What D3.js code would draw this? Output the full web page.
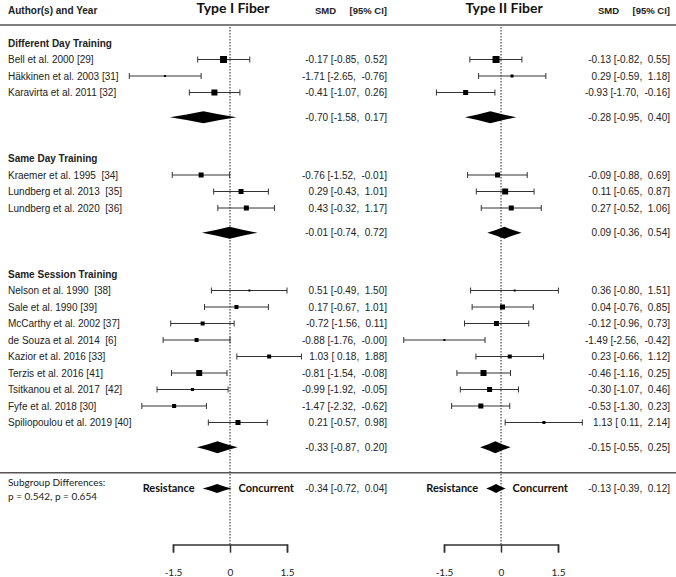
<!DOCTYPE html>
<html>
<head>
<meta charset="utf-8">
<script src="https://cdn.jsdelivr.net/npm/d3@7"></script>
<style>
  body { margin: 0; background: #fff; }
  text { white-space: pre; }
</style>
</head>
<body>
<div id="chart"></div>
<script>
// data
const groups = ["Different Day Training", "Same Day Training", "Same Session Training"]
const groupSize = [3, 3, 9]
const studies = ["Bell et al. 2000 [29]", "Häkkinen et al. 2003 [31]", "Karavirta et al. 2011 [32]",
  "Kraemer et al. 1995  [34]", "Lundberg et al. 2013  [35]", "Lundberg et al. 2020  [36]",
  "Nelson et al. 1990  [38]", "Sale et al. 1990 [39]", "McCarthy et al. 2002 [37]", "de Souza et al. 2014  [6]",
  "Kazior et al. 2016 [33]", "Terzis et al. 2016 [41]", "Tsitkanou et al. 2017  [42]", "Fyfe et al. 2018 [30]",
  "Spiliopoulou et al. 2019 [40]"]

// Type I fiber
const smd1 = [-0.17, -1.71, -0.41, -0.76, 0.29, 0.43, 0.51, 0.17, -0.72, -0.88, 1.03, -0.81, -0.99, -1.47, 0.21]
const lo1 = [-0.85, -2.65, -1.07, -1.52, -0.43, -0.32, -0.49, -0.67, -1.56, -1.76, 0.18, -1.54, -1.92, -2.32, -0.57]
const hi1 = [0.52, -0.76, 0.26, -0.01, 1.01, 1.17, 1.50, 1.01, 0.11, -0.00, 1.88, -0.08, -0.05, -0.62, 0.98]
const wt1 = [7, 2, 6, 5, 5, 5, 2, 4, 4, 4, 4, 6, 3, 4, 5]
const sub1 = [-0.70, -0.01, -0.33]
const subLo1 = [-1.58, -0.74, -0.87]
const subHi1 = [0.17, 0.72, 0.20]
const all1 = [-0.34, -0.72, 0.04]

// Type II fiber
const smd2 = [-0.13, 0.29, -0.93, -0.09, 0.11, 0.27, 0.36, 0.04, -0.12, -1.49, 0.23, -0.46, -0.30, -0.53, 1.13]
const lo2 = [-0.82, -0.59, -1.70, -0.88, -0.65, -0.52, -0.80, -0.76, -0.96, -2.56, -0.66, -1.16, -1.07, -1.30, 0.11]
const hi2 = [0.55, 1.18, -0.16, 0.69, 0.87, 1.06, 1.51, 0.85, 0.73, -0.42, 1.12, 0.25, 0.46, 0.23, 2.14]
const wt2 = [7, 3, 5, 5, 6, 5, 2, 5, 5, 2, 4, 6, 5, 5, 3]
const sub2 = [-0.28, 0.09, -0.15]
const subLo2 = [-0.95, -0.36, -0.55]
const subHi2 = [0.40, 0.54, 0.25]
const all2 = [-0.13, -0.39, 0.12]

const ticks = [-1.5, 0, 1.5]

const width = 676, height = 577
const svg = d3.select('#chart').append('svg')
  .attr('width', width).attr('height', height)

const ARIAL = '"Liberation Sans", Arial, sans-serif'
const CALIBRI = 'Lato, "Open Sans", sans-serif'

// row index -> y
const y = d3.scaleLinear().domain([0, 1]).range([43, 59.5])
const size = d3.scaleLinear().domain([0, 8]).range([0, 8])

// work out the row of every line
let rows = [], headRows = [], sumRows = []
let r = 0
groups.forEach((g, gi) => {
  headRows.push(r)
  for (let i = 0; i < groupSize[gi]; i++) rows.push(r + 1 + i)
  sumRows.push(r + groupSize[gi] + 1.5)
  r = r + groupSize[gi] + 4
})
const subgroupRow = 27
const axisRow = 30.4

function num(v) {
  return (v < 0 || Object.is(v, -0) ? '-' : '') + Math.abs(v).toFixed(2)
}
function pad(v) {
  let s = num(v)
  return s.length < 5 ? ' ' + s : s
}
function ciText(e, l, h) {
  return num(e) + ' [' + pad(l) + ',  ' + num(h) + ']'
}

// header + separator lines
svg.append('text').attr('x', 8).attr('y', 14)
  .attr('font-family', ARIAL).attr('font-weight', 'bold').attr('font-size', 10)
  .attr('fill', '#222').text('Author(s) and Year')
svg.append('line').attr('x1', 0).attr('x2', width).attr('y1', 25).attr('y2', 25)
  .attr('stroke', '#555').attr('stroke-width', 1.5)
svg.append('line').attr('x1', 0).attr('x2', width).attr('y1', y(26.05)).attr('y2', y(26.05))
  .attr('stroke', '#555').attr('stroke-width', 1.5)

// left labels
svg.selectAll('.grp').data(groups).enter().append('text')
  .attr('class', 'grp')
  .attr('x', 8).attr('y', (d, i) => y(headRows[i])).attr('dy', '0.35em')
  .attr('font-family', ARIAL).attr('font-weight', 'bold').attr('font-size', 10)
  .attr('fill', '#222').text(d => d)

svg.selectAll('.study').data(studies).enter().append('text')
  .attr('class', 'study')
  .attr('x', 8).attr('y', (d, i) => y(rows[i])).attr('dy', '0.35em')
  .attr('font-family', ARIAL).attr('font-size', 10)
  .attr('fill', '#222').text(d => d)

svg.append('text').attr('x', 8).attr('y', 486)
  .attr('font-family', CALIBRI).attr('font-size', 10).attr('fill', '#222')
  .text('Subgroup Differences:')
svg.append('text').attr('x', 8).attr('y', 500)
  .attr('font-family', CALIBRI).attr('font-size', 10).attr('fill', '#222')
  .text('p = 0.542, p = 0.654')

const panels = [
  {title: 'Type I Fiber', range: [173, 287], right: 387, est: smd1, lo: lo1, hi: hi1, wt: wt1,
    sub: sub1, subLo: subLo1, subHi: subHi1, all: all1},
  {title: 'Type II Fiber', range: [444, 558], right: 670, est: smd2, lo: lo2, hi: hi2, wt: wt2,
    sub: sub2, subLo: subLo2, subHi: subHi2, all: all2}
]

function diamond(x, e, l, h, yy, hh) {
  const a = x(l), m = x(e), b = x(h)
  return [[a, yy], [(a + m) / 2, yy - hh * 0.45], [m, yy - hh], [(m + b) / 2, yy - hh * 0.45], [b, yy],
    [(m + b) / 2, yy + hh * 0.45], [m, yy + hh], [(a + m) / 2, yy + hh * 0.45]]
}

panels.forEach(p => {
  const x = d3.scaleLinear().domain([-1.5, 1.5]).range(p.range)
  const g = svg.append('g')

  g.append('text').attr('x', x(0) + 3).attr('y', 13).attr('text-anchor', 'middle')
    .attr('font-family', CALIBRI).attr('font-weight', 'bold').attr('font-size', 14)
    .attr('fill', '#111').text(p.title)
  g.append('text').attr('x', p.right - 72).attr('y', 14)
    .attr('font-family', ARIAL).attr('font-weight', 'bold').attr('font-size', 9.5)
    .attr('fill', '#222').text('SMD')
  g.append('text').attr('x', p.right).attr('y', 14).attr('text-anchor', 'end')
    .attr('font-family', ARIAL).attr('font-weight', 'bold').attr('font-size', 9.5)
    .attr('fill', '#222').text('[95% CI]')

  // zero line
  g.append('line').attr('x1', x(0)).attr('x2', x(0)).attr('y1', 27).attr('y2', y(axisRow))
    .attr('stroke', '#222').attr('stroke-width', 1).attr('stroke-dasharray', '1.5,1.5')

  // CI whiskers
  const st = g.selectAll('.st').data(studies).enter().append('g').attr('class', 'st')
  st.append('line')
    .attr('x1', (d, i) => x(p.lo[i])).attr('x2', (d, i) => x(p.hi[i]))
    .attr('y1', (d, i) => y(rows[i])).attr('y2', (d, i) => y(rows[i]))
    .attr('stroke', '#333').attr('stroke-width', 1)
  st.append('line')
    .attr('x1', (d, i) => x(p.lo[i])).attr('x2', (d, i) => x(p.lo[i]))
    .attr('y1', (d, i) => y(rows[i]) - 3).attr('y2', (d, i) => y(rows[i]) + 3)
    .attr('stroke', '#333').attr('stroke-width', 1)
  st.append('line')
    .attr('x1', (d, i) => x(p.hi[i])).attr('x2', (d, i) => x(p.hi[i]))
    .attr('y1', (d, i) => y(rows[i]) - 3).attr('y2', (d, i) => y(rows[i]) + 3)
    .attr('stroke', '#333').attr('stroke-width', 1)
  st.append('rect')
    .attr('x', (d, i) => x(p.est[i]) - size(p.wt[i]) / 2)
    .attr('y', (d, i) => y(rows[i]) - size(p.wt[i]) / 2)
    .attr('width', (d, i) => size(p.wt[i])).attr('height', (d, i) => size(p.wt[i]))
    .attr('fill', '#000')
  st.append('text')
    .attr('x', p.right).attr('y', (d, i) => y(rows[i])).attr('dy', '0.35em')
    .attr('text-anchor', 'end')
    .attr('font-family', ARIAL).attr('font-size', 10).attr('fill', '#222')
    .text((d, i) => ciText(p.est[i], p.lo[i], p.hi[i]))

  // subgroup summaries
  g.selectAll('.sum').data(groups).enter().append('polygon').attr('class', 'sum')
    .attr('points', (d, i) => diamond(x, p.sub[i], p.subLo[i], p.subHi[i], y(sumRows[i]), 6).join(' '))
    .attr('fill', '#000')
  g.selectAll('.sumt').data(groups).enter().append('text').attr('class', 'sumt')
    .attr('x', p.right).attr('y', (d, i) => y(sumRows[i])).attr('dy', '0.35em')
    .attr('text-anchor', 'end')
    .attr('font-family', ARIAL).attr('font-size', 10).attr('fill', '#222')
    .text((d, i) => ciText(p.sub[i], p.subLo[i], p.subHi[i]))

  // resistance vs concurrent
  const yy = y(subgroupRow)
  g.append('polygon').attr('points', diamond(x, p.all[0], p.all[1], p.all[2], yy, 4.5).join(' '))
    .attr('fill', '#000')
  g.append('text').attr('x', x(p.all[1]) - 8).attr('y', yy).attr('dy', '0.35em')
    .attr('text-anchor', 'end')
    .attr('font-family', CALIBRI).attr('font-weight', 'bold').attr('font-size', 11)
    .attr('fill', '#111').text('Resistance')
  g.append('text').attr('x', x(p.all[2]) + 7).attr('y', yy).attr('dy', '0.35em')
    .attr('font-family', CALIBRI).attr('font-weight', 'bold').attr('font-size', 11)
    .attr('fill', '#111').text('Concurrent')
  g.append('text').attr('x', p.right).attr('y', yy).attr('dy', '0.35em')
    .attr('text-anchor', 'end')
    .attr('font-family', ARIAL).attr('font-size', 10).attr('fill', '#222')
    .text(ciText(p.all[0], p.all[1], p.all[2]))

  // axis
  const axis = d3.axisBottom(x).tickValues(ticks).tickSize(8).tickPadding(16)
    .tickFormat(d => d === 0 ? '0' : (d < 0 ? '-' : '') + Math.abs(d))
  const ag = g.append('g').attr('transform', `translate(0, ${y(axisRow)})`).call(axis)
  ag.select('.domain').attr('stroke', '#333').attr('stroke-width', 1.5)
  ag.selectAll('.tick line').attr('stroke', '#333').attr('stroke-width', 1.5)
  ag.selectAll('.tick text').attr('font-family', CALIBRI).attr('font-size', 10).attr('fill', '#222')
})
</script>
</body>
</html>
